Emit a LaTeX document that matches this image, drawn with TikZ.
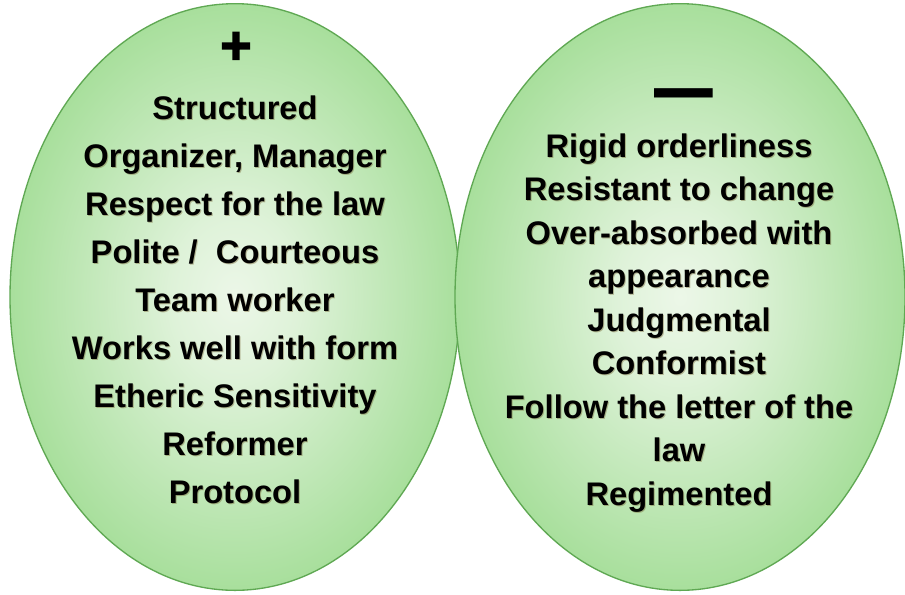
\documentclass[tikz,border=0pt]{standalone}
\usepackage{fontspec}
\setmainfont{Liberation Sans}
\newfontfamily\plusfont[FakeBold=2.5]{Liberation Sans Bold}
\usepackage{graphicx}
\usetikzlibrary{shapes.geometric}
\definecolor{cin}{HTML}{ECF7E8}
\definecolor{cout}{HTML}{A8DF9C}
\definecolor{rimgreen}{HTML}{5FA853}
\definecolor{shadowcol}{HTML}{6E5A28}
\pgfdeclareradialshading{ovalshade}{\pgfpoint{0bp}{0bp}}{color(0bp)=(cin); color(7bp)=(cin!80!cout); color(25bp)=(cout); color(50bp)=(cout)}
\newcommand\LtextA{Structured\\Organizer, Manager\\Respect for the law\\Polite /\ \ Courteous\\Team worker\\Works well with form\\Etheric Sensitivity\\Reformer\\Protocol}
\newcommand\RtextA{Rigid orderliness\\Resistant to change\\Over-absorbed with\\appearance\\Judgmental\\Conformist\\Follow the letter of the\\law\\Regimented}
\tikzset{
  oval/.style={ellipse, draw=rimgreen, line width=1pt, shading=ovalshade, inner sep=0pt, minimum width=337.5pt, minimum height=440pt},
  lefttxt/.style={align=center, font=\bfseries\fontsize{24.5}{36}\selectfont, inner sep=0pt},
  righttxt/.style={align=center, font=\bfseries\fontsize{24.5}{32.6}\selectfont, inner sep=0pt},
  shade txt/.style={text=shadowcol, opacity=0.4},
}
\begin{document}
\begin{tikzpicture}[x=0.75pt,y=-0.75pt]
\useasboundingbox[fill=white] (0,0) rectangle (905,594);
\node[oval] (L) at (235,297) {};
\node[oval] (R) at (680,297) {};
% plus / minus
\node[font=\plusfont\fontsize{40}{40}\selectfont, inner sep=0pt] (plus) at (236,48) {+};
\node[font=\bfseries\fontsize{44}{44}\selectfont, inner sep=0pt] (minus) at (684,104) {\scalebox{1}[1.6]{—}};
% text with slight shadow
\node[lefttxt, shade txt] (Lsh) at ([shift={(1,1)}]235,300) {\LtextA};
\node[lefttxt] (Lt) at (235,300) {\LtextA};
\node[righttxt, shade txt] (Rsh) at ([shift={(1,1)}]679,323) {\RtextA};
\node[righttxt] (Rt) at (679,323) {\RtextA};
\end{tikzpicture}
\end{document}
